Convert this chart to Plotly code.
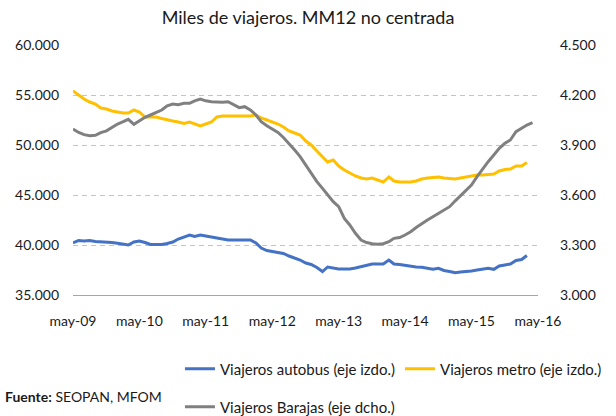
import plotly.graph_objects as go

# Monthly data, May-2009 onwards
autobus = [40200, 40450, 40400, 40450, 40350, 40330, 40300, 40250, 40170, 40050,
           40000, 40300, 40400, 40250, 40050, 40050, 40050, 40150, 40300, 40600,
           40800, 41000, 40850, 41000, 40900, 40800, 40670, 40600, 40500, 40500,
           40500, 40500, 40500, 40200, 39700, 39450, 39350, 39250, 39150, 38900,
           38700, 38500, 38200, 38050, 37750, 37350, 37800, 37700, 37600, 37600,
           37600, 37700, 37850, 37950, 38100, 38100, 38100, 38500, 38100, 38050,
           37950, 37900, 37800, 37770, 37650, 37570, 37670, 37450, 37350, 37230,
           37300, 37330, 37400, 37500, 37600, 37670, 37570, 37900, 38000, 38100,
           38450, 38550, 38950]
metro = [55400, 55000, 54600, 54300, 54100, 53700, 53600, 53400, 53300, 53200,
         53200, 53500, 53300, 52800, 52800, 52800, 52650, 52500, 52400, 52300,
         52150, 52300, 52100, 51900, 52100, 52300, 52800, 52900, 52900, 52900,
         52900, 52900, 52900, 53000, 52700, 52500, 52300, 52100, 51800, 51400,
         51200, 51000, 50400, 50000, 49400, 48800, 48300, 48500, 47900, 47500,
         47200, 46900, 46700, 46600, 46700, 46500, 46300, 46800, 46400, 46300,
         46300, 46300, 46400, 46600, 46700, 46750, 46800, 46700, 46650, 46600,
         46700, 46800, 46900, 47000, 47000, 47050, 47100, 47400, 47550, 47600,
         47900, 47900, 48250]
barajas = [3996, 3975, 3962, 3956, 3958, 3974, 3985, 4005, 4026, 4040,
           4054, 4024, 4045, 4066, 4080, 4095, 4110, 4135, 4146, 4142,
           4150, 4150, 4165, 4176, 4165, 4160, 4156, 4156, 4160, 4140,
           4124, 4130, 4110, 4080, 4040, 4015, 3995, 3975, 3945, 3910,
           3870, 3830, 3780, 3730, 3680, 3640, 3600, 3560, 3530, 3460,
           3420, 3370, 3330, 3315, 3308, 3305, 3308, 3320, 3340, 3345,
           3360, 3380, 3405, 3425, 3450, 3470, 3490, 3505, 3530, 3565,
           3595, 3630, 3660, 3710, 3755, 3800, 3840, 3880, 3910, 3930,
           3980, 4000, 4020, 4034]

tick_dates = ["2009-05-01", "2010-05-01", "2011-05-01", "2012-05-01",
              "2013-05-01", "2014-05-01", "2015-05-01", "2016-05-01"]
tick_labels = ["may-09", "may-10", "may-11", "may-12", "may-13", "may-14", "may-15", "may-16"]


def months(n, y0=2009, m0=5):
    out = []
    for i in range(n):
        k = m0 - 1 + i
        out.append(f"{y0 + k // 12}-{k % 12 + 1:02d}-01")
    return out


FONT = "Lato"
TXT = "#1a1a1a"
fig = go.Figure()
fig.add_trace(go.Scatter(x=months(len(autobus)), y=autobus, mode="lines",
                         name="Viajeros autobus (eje izdo.)",
                         line=dict(color="#4472C4", width=3), legend="legend"))
fig.add_trace(go.Scatter(x=months(len(metro)), y=metro, mode="lines",
                         name="Viajeros metro (eje izdo.)",
                         line=dict(color="#FFC000", width=3), legend="legend"))
fig.add_trace(go.Scatter(x=months(len(barajas)), y=barajas, mode="lines",
                         name="Viajeros Barajas (eje dcho.)", yaxis="y2",
                         line=dict(color="#808080", width=3), legend="legend2"))

fig.update_layout(
    width=616, height=416,
    margin=dict(l=73, r=78, t=45, b=121, autoexpand=False),
    paper_bgcolor="white", plot_bgcolor="white",
    separators=",.",
    font=dict(family=FONT, size=14, color=TXT),
    title=dict(text="Miles de viajeros. MM12 no centrada", x=0.5, xanchor="center",
               y=1 - 18 / 416, yanchor="middle", font=dict(size=18, color=TXT)),
    xaxis=dict(type="date", range=["2009-05-01", "2016-05-01"],
               tickvals=tick_dates, ticktext=tick_labels, showgrid=False,
               showline=True, linecolor="#A6A6A6", linewidth=1, ticks="",
               ticklabelstandoff=13, automargin=False, tickfont=dict(size=14)),
    yaxis=dict(range=[35000, 60000], dtick=5000, tickformat=",.0f",
               showgrid=True, gridcolor="#C4C4C4", griddash="5px,4px", gridwidth=1,
               zeroline=False, ticks="", ticklabelstandoff=13, automargin=False,
               tickfont=dict(size=14)),
    yaxis2=dict(range=[3000, 4500], dtick=300, tickformat=",.0f", overlaying="y",
                side="right", showgrid=False, zeroline=False, ticks="",
                ticklabelstandoff=21, automargin=False, tickfont=dict(size=14)),
    legend=dict(orientation="h", x=0.23, xanchor="left", y=-0.296, yanchor="middle",
                font=dict(size=15), bgcolor="rgba(0,0,0,0)", itemwidth=30),
    legend2=dict(orientation="h", x=0.23, xanchor="left", y=-0.448, yanchor="middle",
                 font=dict(size=15), bgcolor="rgba(0,0,0,0)", itemwidth=30),
    annotations=[dict(text="<b>Fuente:</b> SEOPAN, MFOM", xref="paper", yref="paper",
                      x=-0.15, y=-0.404, xanchor="left", yanchor="middle",
                      showarrow=False, font=dict(size=14, color=TXT))],
)

fig.write_html("out.html", config={"displayModeBar": False},
               post_script="document.body.style.margin='0';")
